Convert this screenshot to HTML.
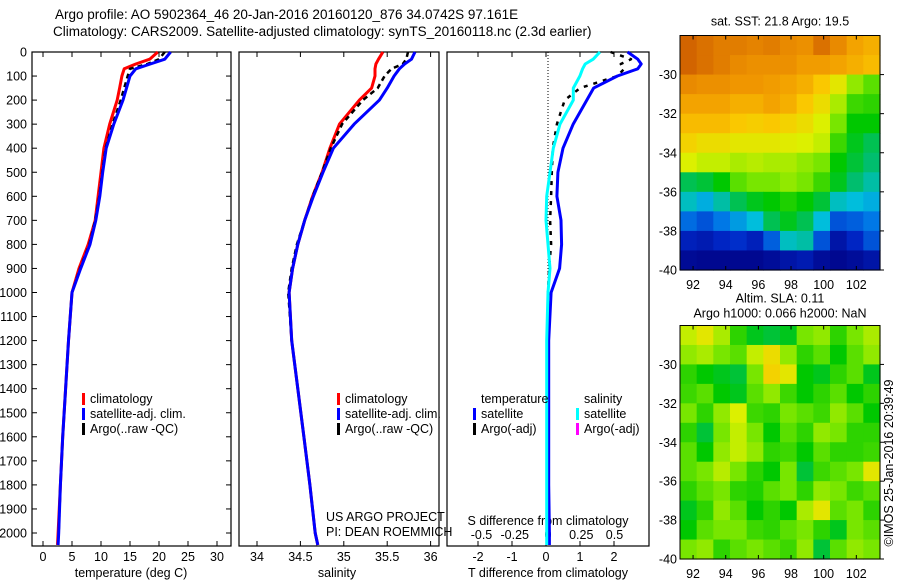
<!DOCTYPE html>
<html><head><meta charset="utf-8">
<style>
html,body{margin:0;padding:0;background:#fff;}
svg{display:block;font-family:"Liberation Sans",Arial,sans-serif;}
text{fill:#000;}
</style></head>
<body>
<svg id="fig" width="900" height="580" viewBox="0 0 900 580" xmlns="http://www.w3.org/2000/svg">
<text x="55" y="19" font-size="13.5">Argo profile: AO 5902364_46 20-Jan-2016 20160120_876 34.0742S 97.161E</text>
<text x="53" y="36" font-size="13.5">Climatology: CARS2009. Satellite-adjusted climatology: synTS_20160118.nc (2.3d earlier)</text>
<g id="layer"></g>
</svg>
<script>
// ---- profile data ----
const depths = [0,30,50,70,100,150,200,300,400,500,600,700,800,900,1000,1200,1400,1600,1800,2000,2050];
const tempClim = [19.8,18.4,16,14,13.6,13.2,12.8,11.5,10.5,10,9.5,9.0,7.8,6.2,5.0,4.4,3.9,3.4,3.0,2.6,2.5];
const tempSat  = [22,21,18.5,16,15,14.4,13.8,12.2,10.9,10.3,9.8,9.1,8.1,6.5,5.0,4.4,3.9,3.4,3.0,2.7,2.6];
const tempArgo = [21,20,18,15,14.6,14,13.4,12,10.8,10.2,9.7,9.0,8.0,6.4,5.0,4.4,3.9,3.4,3.0,2.7,null];
const salClim = [35.45,35.40,35.37,35.36,35.36,35.32,35.18,34.95,34.84,34.75,34.64,34.55,34.47,34.41,34.37,34.40,34.47,34.54,34.61,34.67,34.70];
const salSat  = [35.82,35.78,35.70,35.64,35.58,35.50,35.41,35.12,34.88,34.76,34.65,34.55,34.47,34.41,34.37,34.40,34.47,34.54,34.61,34.67,34.70];
const salArgo = [35.74,35.72,35.68,35.55,35.47,35.39,35.22,34.98,34.85,34.75,34.64,34.55,34.46,34.40,34.36,34.40,34.47,34.54,34.61,34.67,null];
const tDiffSat  = [2.4,2.7,2.8,2.7,2.1,1.4,1.2,0.8,0.5,0.35,0.32,0.44,0.46,0.4,0.15,0.08,0.08,0.08,0.08,0.1,0.1];
const tDiffArgo = [1.9,2.5,2.2,2.3,2.1,1.0,0.55,0.32,0.2,0.17,0.15,0.12,0.15,0.09,0.06,0.05,0.05,0.05,0.04,0.04,null];
const sDiffSat  = [0.39,0.34,0.28,0.26,0.24,0.19,0.19,0.09,0.04,0.015,-0.01,-0.015,0,0.015,0,-0.01,-0.01,-0.01,-0.01,-0.01,-0.01];
const depthTicks = [0,100,200,300,400,500,600,700,800,900,1000,1100,1200,1300,1400,1500,1600,1700,1800,1900,2000];
const tempTicks = [0,5,10,15,20,25,30];
const salTicks = [34,34.5,35,35.5,36];
const salTickLabels = ["34","34.5","35","35.5","36"];
const tdTicks = [-2,-1,0,1,2];
const sdTicks = [-0.5,-0.25,0,0.25,0.5];
const sdTickLabels = ["-0.5","-0.25","0","0.25","0.5"];
// ---- map data (colormap index 0..1) ----
const lonTicks = [92,94,96,98,100,102];
const latTicks = [-30,-32,-34,-36,-38,-40];
const sstGrid = [
[.92,.90,.88,.88,.87,.88,.86,.85,.90,.86,.82,.80],
[.92,.90,.88,.86,.85,.85,.85,.83,.83,.82,.80,.78],
[.86,.85,.85,.84,.84,.83,.82,.80,.76,.70,.62,.58],
[.82,.82,.82,.80,.80,.82,.80,.76,.72,.64,.56,.55],
[.78,.78,.78,.76,.75,.76,.74,.72,.68,.60,.52,.52],
[.74,.72,.72,.70,.70,.70,.69,.68,.66,.56,.50,.46],
[.68,.66,.66,.64,.65,.64,.64,.62,.60,.52,.48,.44],
[.46,.48,.52,.58,.60,.60,.62,.60,.56,.50,.44,.40],
[.38,.34,.40,.46,.50,.52,.54,.52,.48,.38,.36,.34],
[.26,.22,.28,.32,.36,.46,.50,.46,.36,.22,.24,.28],
[.12,.10,.14,.16,.12,.24,.38,.40,.22,.08,.14,.22],
[.04,.03,.03,.03,.03,.05,.08,.10,.05,.03,.05,.08]];
const slaGrid = [
[.66,.70,.64,.55,.50,.48,.50,.60,.62,.55,.60,.64],
[.62,.64,.60,.58,.66,.72,.62,.55,.58,.52,.58,.62],
[.55,.52,.50,.48,.60,.74,.70,.52,.50,.55,.58,.50],
[.56,.58,.52,.50,.58,.62,.56,.52,.55,.58,.52,.55],
[.60,.55,.62,.68,.56,.55,.60,.58,.56,.62,.58,.52],
[.55,.48,.60,.66,.60,.52,.58,.55,.62,.60,.55,.55],
[.58,.52,.62,.66,.62,.55,.56,.52,.58,.55,.55,.56],
[.58,.60,.65,.60,.55,.52,.60,.48,.56,.58,.60,.70],
[.55,.58,.60,.55,.54,.58,.60,.55,.62,.60,.56,.58],
[.50,.55,.62,.58,.52,.55,.52,.64,.70,.58,.60,.55],
[.52,.58,.60,.60,.56,.55,.58,.60,.55,.50,.60,.58],
[.60,.62,.55,.58,.60,.58,.56,.62,.48,.58,.62,.60]];

const NS="http://www.w3.org/2000/svg";
const layer=document.getElementById('layer');
function mk(tag,attrs,parent){const e=document.createElementNS(NS,tag);for(const k in attrs)e.setAttribute(k,attrs[k]);(parent||layer).appendChild(e);return e;}
function txt(x,y,s,size,anchor,parent){const t=mk('text',{x:x,y:y,'font-size':size||12.5,'text-anchor':anchor||'start'},parent);t.textContent=s;return t;}

const yD=d=>52+d*0.2405;
const xT=t=>43+t*5.8;
const xS=s=>257+(s-34)*86.8;
const xDT=v=>546+v*34;
const xDS=v=>548+v*133;
const P1={l:32,r:231},P2={l:239,r:439},P3={l:447,r:649},TOP=52,BOT=546;

[[P1,'temperature-panel'],[P2,'salinity-panel'],[P3,'difference-panel']].forEach(([p,n])=>{
  const r=mk('rect',{x:p.l,y:TOP,width:p.r-p.l,height:BOT-TOP,fill:'none',stroke:'#000','stroke-width':1.2});
  
  
});
depthTicks.forEach(d=>{
  const y=yD(d);
  mk('line',{x1:P1.l,x2:P1.l+5,y1:y,y2:y,stroke:'#000'});
  mk('line',{x1:P1.r-5,x2:P1.r,y1:y,y2:y,stroke:'#000'});
  const t=txt(27,y+4.5,String(d),12.5,'end');
  
  
});
function xticks(vals,labels,fx,ly){
  vals.forEach((v,i)=>{const x=fx(v);
    mk('line',{x1:x,x2:x,y1:TOP,y2:TOP+5,stroke:'#000'});
    mk('line',{x1:x,x2:x,y1:BOT-5,y2:BOT,stroke:'#000'});
    const t=txt(x,ly,labels[i],12.5,'middle');
    
    
  });
}
xticks(tempTicks,tempTicks.map(String),xT,561);
xticks(salTicks,salTickLabels,xS,561);
xticks(tdTicks,tdTicks.map(String),xDT,561);
sdTicks.forEach((v,i)=>{const t=txt(xDS(v),539,sdTickLabels[i],12.5,'middle');
  
  });
let at=txt(131,577,'temperature (deg C)',12.5,'middle');

at=txt(337,577,'salinity',12.5,'middle');

at=txt(548,577,'T difference from climatology',12.5,'middle');

at=txt(548,525,'S difference from climatology',12.5,'middle');

const zl=mk('line',{x1:548,x2:548,y1:TOP,y2:BOT,stroke:'#000','stroke-dasharray':'1,2','stroke-width':1});


function series(vals,fx,color,name,dash,w){
  let d='';let pen=false;
  vals.forEach((v,i)=>{if(v==null){pen=false;return;}d+=(pen?'L':'M')+fx(v).toFixed(1)+','+yD(depths[i]).toFixed(1);pen=true;});
  const p=mk('path',{d:d,fill:'none',stroke:color,'stroke-width':w||3,'stroke-linejoin':'round'});
  if(dash)p.setAttribute('stroke-dasharray',dash);
  
  
}
series(tempClim,xT,'#ff0000','temp-climatology-line');
series(tempArgo,xT,'#000','temp-argo-line','5,4',2.5);
series(tempSat,xT,'#0000ff','temp-satellite-line');
series(salClim,xS,'#ff0000','sal-climatology-line');
series(salArgo,xS,'#000','sal-argo-line','5,4',2.5);
series(salSat,xS,'#0000ff','sal-satellite-line');
series(tDiffArgo,xDT,'#000','tdiff-argo-line','4,6',2.5);
series(tDiffSat,xDT,'#0000ff','tdiff-satellite-line');
series(sDiffSat,xDS,'#00ffff','sdiff-satellite-line');

function legendEntry(x,y,color,label,name){
  const g=mk('g',{});
  
  
  mk('rect',{x:x,y:y-10,width:3,height:12,fill:color},g);
  txt(x+8,y,label,12.5,'start',g);
}
[[82,'p1'],[337,'p2']].forEach(([x,p])=>{
  legendEntry(x,403,'#ff0000','climatology',p+'-legend-climatology');
  legendEntry(x,418,'#0000ff','satellite-adj. clim.',p+'-legend-satellite');
  legendEntry(x,433,'#000','Argo(..raw -QC)',p+'-legend-argo');
});
let lt=txt(481,403,'temperature',12.5);
lt=txt(584,403,'salinity',12.5);
legendEntry(473,418,'#0000ff','satellite','legend-t-satellite');
legendEntry(473,433,'#000','Argo(-adj)','legend-t-argo');
legendEntry(576,418,'#00ffff','satellite','legend-s-satellite');
legendEntry(576,433,'#ff00ff','Argo(-adj)','legend-s-argo');
lt=txt(326,521,'US ARGO PROJECT',12.5);
lt=txt(326,536,'PI: DEAN ROEMMICH',12.5);

// ---- maps ----
const cmapStops=[[0,0,0,130],[.15,0,40,200],[.28,0,120,230],[.36,0,190,220],[.44,0,190,110],[.52,0,200,0],[.6,120,230,0],[.68,220,240,0],[.76,250,200,0],[.84,240,150,0],[.92,210,100,0],[1,180,40,0]];
function cmap(v){
  v=Math.max(0,Math.min(1,v));
  for(let i=1;i<cmapStops.length;i++){
    const a=cmapStops[i-1],b=cmapStops[i];
    if(v<=b[0]){const f=(v-a[0])/(b[0]-a[0]);
      return 'rgb('+[1,2,3].map(k=>Math.round(a[k]+(b[k]-a[k])*f)).join(',')+')';}
  }
  return 'rgb(180,40,0)';
}
function drawMap(grid,top,bottom,name,title1,title2){
  const L=680,R=880,lon0=91.2,lon1=103.45,lat0=-28.0,lat1=-40.0;
  const xL=lo=>L+(lo-lon0)/(lon1-lon0)*(R-L);
  const yL=la=>top+(la-lat0)/(lat1-lat0)*(bottom-top);
  const g=mk('g',{});
  
  
  const nr=grid.length,nc=grid[0].length;
  const cw=(R-L)/nc,ch=(bottom-top)/nr;
  grid.forEach((row,i)=>row.forEach((v,j)=>{
    const c=mk('rect',{x:(L+j*cw).toFixed(2),y:(top+i*ch).toFixed(2),width:(cw+0.6).toFixed(2),height:(ch+0.6).toFixed(2),fill:cmap(v)},g);
    
    
  }));
  mk('rect',{x:L,y:top,width:R-L,height:bottom-top,fill:'none',stroke:'#000','stroke-width':1},g);
  lonTicks.forEach(lo=>{const x=xL(lo);
    mk('line',{x1:x,x2:x,y1:top,y2:top+4,stroke:'#000'},g);
    mk('line',{x1:x,x2:x,y1:bottom-4,y2:bottom,stroke:'#000'},g);
    const t=txt(x,bottom+19,String(lo),12.5,'middle',g);
    
  });
  latTicks.forEach(la=>{const y=yL(la);
    mk('line',{x1:R,x2:R+4,y1:y,y2:y,stroke:'#000'},g);
    const t=txt(677,y+4.5,String(la),12.5,'end',g);
    
  });
  let t=txt(780,title2?top-23:top-10,title1,12.5,'middle',g);
  
  if(title2){t=txt(780,top-8,title2,12.5,'middle',g);
    }
}
drawMap(sstGrid,35.5,270,'sst-map','sat. SST: 21.8 Argo: 19.5');
drawMap(slaGrid,325.5,559,'sla-map','Altim. SLA: 0.11','Argo h1000: 0.066 h2000: NaN');
const cr=txt(0,0,'©IMOS 25-Jan-2016 20:39:49',12.5,'middle');
cr.setAttribute('transform','translate(893,463) rotate(-90)');


</script>
</body></html>
